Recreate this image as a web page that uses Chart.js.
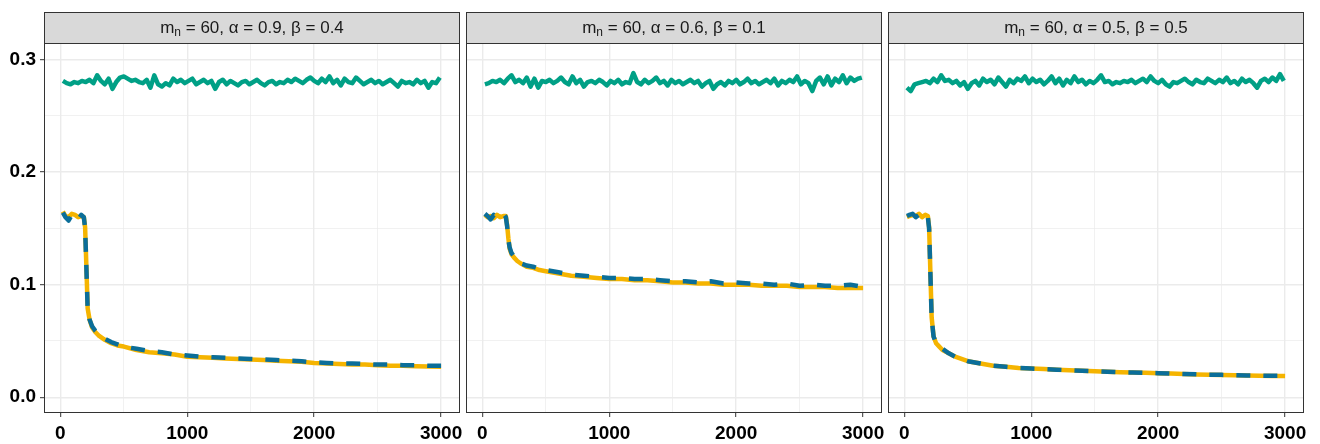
<!DOCTYPE html>
<html>
<head>
<meta charset="utf-8">
<script src="https://cdn.jsdelivr.net/npm/chart.js@4"></script>
<style>
  body { margin: 0; background: #fff; width: 1320px; height: 444px; overflow: hidden; position: relative; }
  .panel { position: absolute; top: 0; height: 444px; }
</style>
</head>
<body>
<div class="panel" style="left:0;width:466px"><canvas id="p1"></canvas></div>
<div class="panel" style="left:466px;width:422px"><canvas id="p2"></canvas></div>
<div class="panel" style="left:888px;width:422px"><canvas id="p3"></canvas></div>
<script>
// facet parameters
const mN = 60;
const alphas = [0.9, 0.6, 0.5];
const betas = [0.4, 0.1, 0.5];

// axis ticks
const xMajor = [0, 1000, 2000, 3000];
const xMinor = [500, 1500, 2500];
const yMajor = [0, 0.1, 0.2, 0.3];
const yMinor = [0.05, 0.15, 0.25];

// green series, x = 20..2990 step 30
const greenSteps = [20,50,80,110,140,170,200,230,260,290,320,350,380,410,440,470,500,530,560,590,
  620,650,680,710,740,770,800,830,860,890,920,950,980,1010,1040,1070,1100,1130,1160,1190,
  1220,1250,1280,1310,1340,1370,1400,1430,1460,1490,1520,1550,1580,1610,1640,1670,1700,1730,1760,1790,
  1820,1850,1880,1910,1940,1970,2000,2030,2060,2090,2120,2150,2180,2210,2240,2270,2300,2330,2360,2390,
  2420,2450,2480,2510,2540,2570,2600,2630,2660,2690,2720,2750,2780,2810,2840,2870,2900,2930,2960,2990];

const green1 = [0.281,0.279,0.278,0.280,0.279,0.281,0.280,0.282,0.279,0.286,
  0.281,0.278,0.283,0.274,0.280,0.284,0.285,0.283,0.281,0.282,
  0.280,0.279,0.282,0.275,0.286,0.278,0.276,0.279,0.277,0.283,
  0.280,0.282,0.279,0.281,0.283,0.278,0.280,0.282,0.279,0.281,
  0.274,0.280,0.282,0.278,0.281,0.279,0.277,0.280,0.281,0.278,
  0.280,0.282,0.279,0.277,0.280,0.281,0.278,0.280,0.279,0.282,
  0.280,0.283,0.281,0.279,0.282,0.284,0.281,0.279,0.283,0.280,
  0.285,0.279,0.282,0.277,0.283,0.280,0.279,0.284,0.281,0.278,
  0.280,0.282,0.279,0.281,0.278,0.280,0.282,0.279,0.276,0.281,
  0.279,0.280,0.278,0.282,0.279,0.281,0.275,0.280,0.279,0.284];

const green2 = [0.278,0.279,0.281,0.280,0.282,0.279,0.283,0.286,0.280,0.282,
  0.279,0.284,0.276,0.283,0.275,0.281,0.280,0.282,0.279,0.281,
  0.284,0.280,0.278,0.285,0.279,0.282,0.276,0.280,0.281,0.279,
  0.282,0.280,0.277,0.281,0.279,0.282,0.278,0.280,0.279,0.288,
  0.280,0.278,0.282,0.279,0.281,0.284,0.279,0.281,0.277,0.282,
  0.279,0.281,0.278,0.280,0.282,0.279,0.281,0.276,0.279,0.281,
  0.274,0.278,0.280,0.277,0.281,0.279,0.282,0.278,0.280,0.283,
  0.279,0.281,0.278,0.280,0.282,0.279,0.283,0.277,0.281,0.279,
  0.282,0.280,0.285,0.278,0.281,0.279,0.272,0.281,0.284,0.278,
  0.285,0.277,0.283,0.280,0.286,0.279,0.284,0.281,0.283,0.284];

const green3 = [0.275,0.272,0.278,0.279,0.280,0.281,0.279,0.283,0.280,0.286,
  0.281,0.282,0.279,0.281,0.277,0.280,0.274,0.279,0.281,0.277,
  0.283,0.280,0.282,0.278,0.284,0.280,0.276,0.282,0.279,0.283,
  0.281,0.285,0.279,0.283,0.280,0.282,0.278,0.281,0.285,0.279,
  0.283,0.277,0.282,0.279,0.285,0.280,0.282,0.278,0.281,0.279,
  0.282,0.286,0.280,0.281,0.278,0.280,0.279,0.281,0.280,0.282,
  0.279,0.281,0.283,0.280,0.285,0.281,0.279,0.282,0.278,0.276,
  0.280,0.279,0.281,0.283,0.280,0.278,0.282,0.280,0.279,0.283,
  0.281,0.279,0.282,0.280,0.284,0.279,0.281,0.278,0.283,0.280,
  0.282,0.279,0.275,0.281,0.283,0.280,0.284,0.281,0.287,0.281];

// decaying series share these x positions
const decaySteps = [20,40,65,90,115,140,165,185,195,205,215,230,250,275,300,350,400,450,500,600,
  700,800,900,1000,1100,1200,1300,1400,1500,1600,1700,1800,1900,2000,2100,2200,2300,2400,2500,2600,
  2700,2800,2900,3000];

const blue1 = [0.164,0.160,0.157,0.162,0.161,0.158,0.162,0.160,0.150,0.115,0.078,0.069,0.063,0.059,0.056,0.052,0.049,0.047,0.045,0.043,
  0.041,0.040,0.038,0.037,0.036,0.0355,0.035,0.0345,0.034,0.0335,0.033,0.0325,0.032,0.031,0.0305,0.030,0.030,0.0295,0.029,0.029,
  0.0285,0.0285,0.028,0.028];
const orange1 = [0.165,0.161,0.160,0.163,0.162,0.160,0.161,0.160,0.151,0.116,0.079,0.069,0.062,0.058,0.055,0.051,0.048,0.046,0.045,0.042,
  0.040,0.039,0.038,0.036,0.0355,0.035,0.0345,0.034,0.0335,0.033,0.0325,0.032,0.0315,0.0305,0.030,0.0295,0.029,0.029,0.0285,0.028,
  0.028,0.0275,0.0272,0.027];

const blue2 = [0.163,0.161,0.158,0.162,0.160,0.161,0.163,0.160,0.152,0.140,0.133,0.128,0.125,0.122,0.119,0.117,0.116,0.114,0.113,0.111,
  0.109,0.108,0.107,0.106,0.106,0.105,0.105,0.104,0.103,0.103,0.102,0.103,0.101,0.102,0.101,0.101,0.100,0.101,0.099,0.100,
  0.099,0.099,0.100,0.098];
const orange2 = [0.162,0.160,0.161,0.159,0.162,0.160,0.161,0.161,0.153,0.141,0.132,0.127,0.124,0.121,0.119,0.116,0.115,0.113,0.112,0.110,
  0.108,0.107,0.106,0.105,0.105,0.104,0.104,0.103,0.102,0.102,0.101,0.101,0.100,0.100,0.100,0.099,0.099,0.099,0.098,0.098,
  0.098,0.097,0.097,0.097];

const blue3 = [0.161,0.162,0.163,0.160,0.162,0.161,0.163,0.160,0.150,0.110,0.070,0.054,0.048,0.045,0.043,0.039,0.036,0.034,0.032,0.030,
  0.028,0.027,0.026,0.0255,0.025,0.0245,0.024,0.0235,0.023,0.0226,0.0222,0.022,0.0217,0.0214,0.021,0.0207,0.0204,0.020,0.0199,0.0196,
  0.0194,0.0192,0.019,0.019];
const orange3 = [0.160,0.161,0.162,0.161,0.163,0.160,0.162,0.161,0.151,0.111,0.071,0.054,0.048,0.045,0.042,0.039,0.036,0.034,0.032,0.030,
  0.028,0.027,0.026,0.0255,0.025,0.0245,0.024,0.0235,0.023,0.0226,0.0222,0.022,0.0217,0.0213,0.021,0.0206,0.0203,0.020,0.0198,0.0195,
  0.0193,0.0191,0.0189,0.0188];

const greens = [green1, green2, green3];
const blues = [blue1, blue2, blue3];
const oranges = [orange1, orange2, orange3];

const FONT = "'Liberation Sans', Arial, sans-serif";
const isMajorX = v => xMajor.includes(v);
const isMajorY = v => yMajor.some(m => Math.abs(m - v) < 1e-9);
const toPoints = (xs, ys) => xs.map((x, i) => ({ x, y: ys[i] }));

// grey strip with the facet label, plus the dark panel border
const stripPlugin = {
  id: 'strip',
  afterDraw(chart, args, opts) {
    const { ctx, chartArea: a } = chart;
    const top = 12;
    ctx.save();
    ctx.fillStyle = '#D9D9D9';
    ctx.fillRect(a.left, top, a.right - a.left, a.top - top);
    ctx.strokeStyle = '#333333';
    ctx.lineWidth = 1;
    ctx.strokeRect(Math.round(a.left) + 0.5, top + 0.5, Math.round(a.right - a.left) - 1, Math.round(a.top - top));
    ctx.strokeRect(Math.round(a.left) + 0.5, Math.round(a.top) + 0.5, Math.round(a.right - a.left) - 1, Math.round(a.bottom - a.top) - 1);

    const parts = [
      { t: 'm', size: 17, dy: 0 },
      { t: 'n', size: 12, dy: 2.5 },
      { t: ' = ' + mN + ', α = ' + opts.alpha.toFixed(1) + ', β = ' + opts.beta.toFixed(1), size: 17, dy: 0 }
    ];
    let total = 0;
    parts.forEach(p => { ctx.font = p.size + 'px ' + FONT; p.w = ctx.measureText(p.t).width; total += p.w; });
    let x = (a.left + a.right) / 2 - total / 2;
    ctx.fillStyle = '#1A1A1A';
    ctx.textBaseline = 'alphabetic';
    ctx.textAlign = 'left';
    parts.forEach(p => {
      ctx.font = p.size + 'px ' + FONT;
      ctx.fillText(p.t, x, 33 + p.dy);
      x += p.w;
    });
    ctx.restore();
  }
};

function makePanel(id, idx, showY) {
  const ctx = document.getElementById(id).getContext('2d');
  return new Chart(ctx, {
    type: 'line',
    data: {
      datasets: [
        {
          label: 'blue',
          data: toPoints(decaySteps, blues[idx]),
          borderColor: '#0B6E99',
          borderWidth: 4.5,
          borderDash: [14, 13],
          order: 0
        },
        {
          label: 'orange',
          data: toPoints(decaySteps, oranges[idx]),
          borderColor: '#F5B400',
          borderWidth: 4.5,
          order: 1
        },
        {
          label: 'green',
          data: toPoints(greenSteps, greens[idx]),
          borderColor: '#00A086',
          borderWidth: 4.5,
          order: 2
        }
      ]
    },
    options: {
      responsive: true,
      maintainAspectRatio: false,
      animation: false,
      layout: { padding: { top: 43, right: 6, bottom: 0, left: 0 } },
      elements: { point: { radius: 0 }, line: { tension: 0, borderJoinStyle: 'round' } },
      plugins: {
        legend: { display: false },
        tooltip: { enabled: false },
        strip: { alpha: alphas[idx], beta: betas[idx] }
      },
      scales: {
        x: {
          type: 'linear',
          min: -129,
          max: 3149,
          // fixed height, and no extra room for the overhanging "3000" label
          afterFit: s => { s.height = 31; s.paddingLeft = 0; s.paddingRight = 0; },
          afterBuildTicks: s => { s.ticks = [...xMajor, ...xMinor].sort((a, b) => a - b).map(v => ({ value: v })); },
          border: { display: false },
          grid: {
            color: '#EBEBEB',
            lineWidth: c => (c.tick && isMajorX(c.tick.value)) ? 1.4 : 0.7,
            tickColor: c => (c.tick && isMajorX(c.tick.value)) ? '#333333' : 'rgba(0,0,0,0)',
            tickLength: 4,
            tickWidth: 1
          },
          ticks: {
            autoSkip: false,
            maxRotation: 0,
            padding: 5,
            color: '#000',
            font: { family: FONT, size: 19, weight: 'bold' },
            callback: v => isMajorX(v) ? String(v) : ''
          }
        },
        y: {
          min: -0.014,
          max: 0.3147,
          afterFit: s => { s.width = showY ? 44 : 0; s.paddingTop = 0; s.paddingBottom = 0; },
          afterBuildTicks: s => { s.ticks = [...yMajor, ...yMinor].sort((a, b) => a - b).map(v => ({ value: v })); },
          border: { display: false },
          grid: {
            color: '#EBEBEB',
            lineWidth: c => (c.tick && isMajorY(c.tick.value)) ? 1.4 : 0.7,
            drawTicks: showY,
            tickColor: c => (c.tick && isMajorY(c.tick.value)) ? '#333333' : 'rgba(0,0,0,0)',
            tickLength: 4,
            tickWidth: 1
          },
          ticks: {
            display: showY,
            padding: 4,
            color: '#000',
            font: { family: FONT, size: 19, weight: 'bold' },
            callback: v => isMajorY(v) ? v.toFixed(1) : ''
          }
        }
      }
    },
    plugins: [stripPlugin]
  });
}

document.addEventListener('DOMContentLoaded', () => {
  makePanel('p1', 0, true);
  makePanel('p2', 1, false);
  makePanel('p3', 2, false);
});
</script>
</body>
</html>
